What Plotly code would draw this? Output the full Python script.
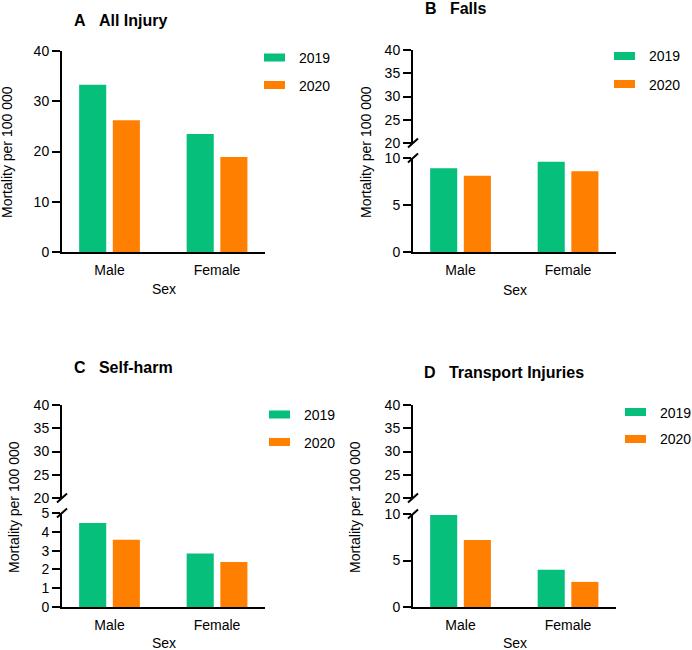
import plotly.graph_objects as go

W, H = 692, 650

# ---------------- data ----------------
sexes = ["Male", "Female"]
years = ["2019", "2020"]
all_injury_2019 = [33.3, 23.5]
all_injury_2020 = [26.2, 18.9]
falls_2019 = [8.9, 9.6]
falls_2020 = [8.1, 8.6]
selfharm_2019 = [4.47, 2.85]
selfharm_2020 = [3.58, 2.4]
transport_2019 = [9.9, 4.0]
transport_2020 = [7.2, 2.7]

upper_ticks = [20, 25, 30, 35, 40]
a_ticks = [0, 10, 20, 30, 40]
b_ticks = [0, 5, 10]
c_ticks = [0, 1, 2, 3, 4, 5]
d_ticks = [0, 5, 10]

GREEN = "#05BF7A"
ORANGE = "#FF8000"
FONT = "Arial, Liberation Sans, sans-serif"


def px(x):
    return x / W


def py(y):
    return 1 - y / H


fig = go.Figure()

panels = [
    # (xaxis id, lower yaxis id, vals2019, vals2020)
    ("x", "y", all_injury_2019, all_injury_2020),
    ("x2", "y2", falls_2019, falls_2020),
    ("x3", "y4", selfharm_2019, selfharm_2020),
    ("x4", "y6", transport_2019, transport_2020),
]
for xa, ya, v19, v20 in panels:
    fig.add_trace(go.Bar(x=sexes, y=v19, name=years[0], marker=dict(color=GREEN, line=dict(width=0)),
                         xaxis=xa, yaxis=ya, showlegend=False))
    fig.add_trace(go.Bar(x=sexes, y=v20, name=years[1], marker=dict(color=ORANGE, line=dict(width=0)),
                         xaxis=xa, yaxis=ya, showlegend=False))

# empty traces so the upper (broken) axis segments are drawn
for xa, ya in [("x2", "y3"), ("x3", "y5"), ("x4", "y7")]:
    fig.add_trace(go.Scatter(x=[], y=[], mode="markers", xaxis=xa, yaxis=ya,
                             showlegend=False, hoverinfo="skip"))

axis_common = dict(showgrid=False, zeroline=False, showline=True, linecolor="black", linewidth=2,
                   automargin=False,
                   tickfont=dict(family=FONT, size=14, color="black"), fixedrange=True)
yaxis_common = dict(axis_common, ticks="outside", ticklen=8, tickwidth=2, tickcolor="black")
xaxis_common = dict(axis_common, ticks="outside", ticklen=4, tickcolor="rgba(0,0,0,0)",
                    range=[-0.442, 1.446], type="category", categoryarray=sexes)

left_x = (px(62), px(265))
right_x = (px(413), px(616))

layout = dict(
    width=W, height=H, margin=dict(l=0, r=0, t=0, b=0, autoexpand=False),
    paper_bgcolor="white", plot_bgcolor="white",
    barmode="group", bargap=0.374, bargroupgap=0.195,
    showlegend=False,
    # Panel A
    xaxis=dict(xaxis_common, domain=left_x, anchor="y"),
    yaxis=dict(yaxis_common, domain=(py(252), py(51)), range=[0, 40], tickvals=a_ticks, anchor="x"),
    # Panel B
    xaxis2=dict(xaxis_common, domain=right_x, anchor="y2"),
    yaxis2=dict(yaxis_common, domain=(py(252), py(158)), range=[0, 10], tickvals=b_ticks, anchor="x2"),
    yaxis3=dict(yaxis_common, domain=(py(143), py(50)), range=[20, 40], tickvals=upper_ticks, anchor="x2"),
    # Panel C
    xaxis3=dict(xaxis_common, domain=left_x, anchor="y4"),
    yaxis4=dict(yaxis_common, domain=(py(607), py(513)), range=[0, 5], tickvals=c_ticks, anchor="x3"),
    yaxis5=dict(yaxis_common, domain=(py(498), py(405)), range=[20, 40], tickvals=upper_ticks, anchor="x3"),
    # Panel D
    xaxis4=dict(xaxis_common, domain=right_x, anchor="y6"),
    yaxis6=dict(yaxis_common, domain=(py(607), py(514)), range=[0, 10], tickvals=d_ticks, anchor="x4"),
    yaxis7=dict(yaxis_common, domain=(py(498), py(405)), range=[20, 40], tickvals=upper_ticks, anchor="x4"),
)
fig.update_layout(**layout)

annotations = []
shapes = []

NB = "\u00a0"
titles = [
    ("A" + NB * 3 + "All Injury", 72, 21),
    ("B" + NB * 3 + "Falls", 423, 8),
    ("C" + NB * 3 + "Self-harm", 72, 367),
    ("D" + NB * 3 + "Transport Injuries", 422, 372),
]
for t, x, y in titles:
    annotations.append(dict(text="<b>" + t + "</b>", x=px(x), y=py(y), xref="paper", yref="paper",
                            xanchor="left", yanchor="middle", showarrow=False,
                            font=dict(family=FONT, size=16, color="black")))

# y-axis titles
for x, y in [(7, 152), (366, 152), (14, 507), (355, 507)]:
    annotations.append(dict(text="Mortality per 100 000", x=px(x), y=py(y), xref="paper", yref="paper",
                            xanchor="center", yanchor="middle", textangle=-90, showarrow=False,
                            font=dict(family=FONT, size=14, color="black")))

# x-axis titles
for x, y in [(163.5, 289), (514.5, 290), (163.5, 643), (514.5, 643)]:
    annotations.append(dict(text="Sex", x=px(x), y=py(y), xref="paper", yref="paper",
                            xanchor="center", yanchor="middle", showarrow=False,
                            font=dict(family=FONT, size=14, color="black")))

# legends (one per panel)
legends = [(264, 57.5, 85), (614, 56, 84), (269, 414.5, 442), (625, 412, 439)]
for lx, y1, y2 in legends:
    for yy, col, lab in [(y1, GREEN, years[0]), (y2, ORANGE, years[1])]:
        shapes.append(dict(type="rect", xref="paper", yref="paper", x0=px(lx), x1=px(lx + 21),
                           y0=py(yy + 4), y1=py(yy - 4), fillcolor=col, line=dict(width=0)))
        annotations.append(dict(text=lab, x=px(lx + 33), y=py(yy + 0.5), xref="paper", yref="paper",
                                xanchor="left", yanchor="middle", showarrow=False,
                                font=dict(family=FONT, size=14, color="black")))

# axis break marks
breaks = [(413, 143, 158), (62, 498, 513), (413, 498, 514)]
for ax, yu, yl in breaks:
    for yy in (yu, yl):
        shapes.append(dict(type="line", xref="paper", yref="paper", x0=px(ax - 5), y0=py(yy + 4.5),
                           x1=px(ax + 5), y1=py(yy - 4.5), line=dict(color="black", width=2)))
fig.update_layout(annotations=annotations, shapes=shapes)

fig.write_html("out.html", config={"displayModeBar": False},
               post_script="document.body.style.margin='0';document.body.style.overflow='hidden';")
